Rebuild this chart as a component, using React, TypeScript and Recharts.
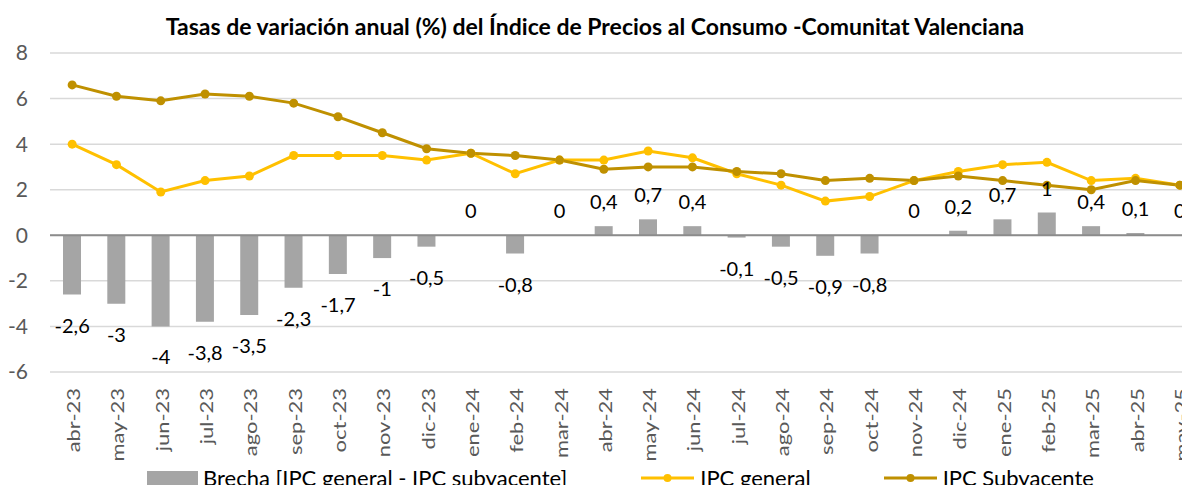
import React from "react";
import {
  ComposedChart,
  Bar,
  Line,
  XAxis,
  YAxis,
  CartesianGrid,
  ReferenceLine,
  LabelList,
  Legend,
} from "recharts";

const meses = [
  "abr-23", "may-23", "jun-23", "jul-23", "ago-23", "sep-23", "oct-23", "nov-23", "dic-23",
  "ene-24", "feb-24", "mar-24", "abr-24", "may-24", "jun-24", "jul-24", "ago-24", "sep-24",
  "oct-24", "nov-24", "dic-24", "ene-25", "feb-25", "mar-25", "abr-25", "may-25",
];
const brecha = [
  -2.6, -3, -4, -3.8, -3.5, -2.3, -1.7, -1, -0.5, 0, -0.8, 0, 0.4,
  0.7, 0.4, -0.1, -0.5, -0.9, -0.8, 0, 0.2, 0.7, 1, 0.4, 0.1, 0,
];
const ipcGeneral = [
  4.0, 3.1, 1.9, 2.4, 2.6, 3.5, 3.5, 3.5, 3.3, 3.6, 2.7, 3.3, 3.3,
  3.7, 3.4, 2.7, 2.2, 1.5, 1.7, 2.4, 2.8, 3.1, 3.2, 2.4, 2.5, 2.2,
];
const ipcSubyacente = [
  6.6, 6.1, 5.9, 6.2, 6.1, 5.8, 5.2, 4.5, 3.8, 3.6, 3.5, 3.3, 2.9,
  3.0, 3.0, 2.8, 2.7, 2.4, 2.5, 2.4, 2.6, 2.4, 2.2, 2.0, 2.4, 2.2,
];
const yTicks = [-6, -4, -2, 0, 2, 4, 6, 8];

const data = meses.map((mes, i) => ({
  mes,
  brecha: brecha[i],
  general: ipcGeneral[i],
  subyacente: ipcSubyacente[i],
}));

const FONT = "Lato, 'Open Sans', sans-serif";
const GRIS = "#a5a5a5";
const AMARILLO = "#ffc000";
const DORADO = "#bf9000";

const fmt = (v: number) => String(v).replace(".", ",");

// etiqueta de la brecha: encima si >= 0, debajo del extremo si es negativa
function EtiquetaBrecha(props: any) {
  const { x, y, value } = props;
  if (value == null) return null;
  const ty = value < 0 ? y + 30 : y - 25;
  return (
    <text x={x} y={ty} textAnchor="middle" dominantBaseline="central" fontSize={20} fontFamily={FONT} fill="#000">
      {fmt(value)}
    </text>
  );
}

function TickMes(props: any) {
  const { x, y, payload } = props;
  return (
    <text
      transform={`translate(${x} ${y}) rotate(-90) scale(1.22 1)`}
      textAnchor="end"
      dy={8}
      fontSize={18}
      fontFamily={FONT}
      fill="#595959"
    >
      {payload.value}
    </text>
  );
}

function Leyenda() {
  const txt: React.CSSProperties = { fontSize: 22, fontFamily: FONT, color: "#000", whiteSpace: "nowrap", lineHeight: "18px" };
  const linea = (color: string) => (
    <svg width={53} height={12} style={{ marginRight: 6, marginTop: 3, flex: "none" }}>
      <line x1={0} y1={6} x2={53} y2={6} stroke={color} strokeWidth={3} />
      <circle cx={26.5} cy={6} r={4} fill={color} />
    </svg>
  );
  return (
    <div
      style={{
        height: 25,
        boxSizing: "border-box",
        paddingTop: 1,
        display: "flex",
        alignItems: "flex-start",
        paddingLeft: 147,
      }}
    >
      <div style={{ width: 51, height: 14, background: GRIS, marginRight: 5, marginTop: 2, flex: "none" }} />
      <span style={txt}>Brecha [IPC general - IPC subyacente]</span>
      <div style={{ width: 74, flex: "none" }} />
      {linea(AMARILLO)}
      <span style={txt}>IPC general</span>
      <div style={{ width: 73, flex: "none" }} />
      {linea(DORADO)}
      <span style={txt}>IPC Subyacente</span>
    </div>
  );
}

export default function App() {
  return (
    <div style={{ position: "relative", width: 1190, height: 493, margin: -8, overflow: "hidden", background: "#fff" }}>
      <div
        style={{
          position: "absolute",
          top: 12,
          left: 0,
          width: 1190,
          textAlign: "center",
          fontFamily: FONT,
          fontWeight: 700,
          fontSize: 23,
          lineHeight: "28px",
          color: "#000",
          zIndex: 2,
        }}
      >
        Tasas de variación anual (%) del Índice de Precios al Consumo -Comunitat Valenciana
      </div>
      <ComposedChart width={1212} height={493} data={data} margin={{ top: 53, right: 10, bottom: 0, left: 0 }}>
        <CartesianGrid vertical={false} stroke="#d9d9d9" strokeWidth={1.5} />
        <XAxis
          dataKey="mes"
          axisLine={false}
          tickLine={false}
          tickSize={0}
          tickMargin={16}
          height={96}
          interval={0}
          tick={<TickMes />}
        />
        <YAxis
          domain={[-6, 8]}
          ticks={yTicks}
          width={50}
          axisLine={false}
          tickLine={false}
          tickSize={0}
          tickMargin={22}
          tick={{ fontSize: 21, fontFamily: FONT, fill: "#595959" }}
        />
        <ReferenceLine y={0} stroke="#8c8c8c" strokeWidth={2} />
        <Legend verticalAlign="bottom" content={<Leyenda />} />
        <Bar dataKey="brecha" name="Brecha [IPC general - IPC subyacente]" fill={GRIS} barSize={18} isAnimationActive={false} />
        <Line
          dataKey="brecha"
          legendType="none"
          stroke="none"
          dot={false}
          activeDot={false}
          isAnimationActive={false}
        >
          <LabelList dataKey="brecha" content={<EtiquetaBrecha />} />
        </Line>
        <Line
          dataKey="general"
          name="IPC general"
          stroke={AMARILLO}
          strokeWidth={3}
          dot={{ r: 4.5, fill: AMARILLO, stroke: AMARILLO, strokeWidth: 0 }}
          isAnimationActive={false}
        />
        <Line
          dataKey="subyacente"
          name="IPC Subyacente"
          stroke={DORADO}
          strokeWidth={3}
          dot={{ r: 4.5, fill: DORADO, stroke: DORADO, strokeWidth: 0 }}
          isAnimationActive={false}
        />
      </ComposedChart>
    </div>
  );
}
